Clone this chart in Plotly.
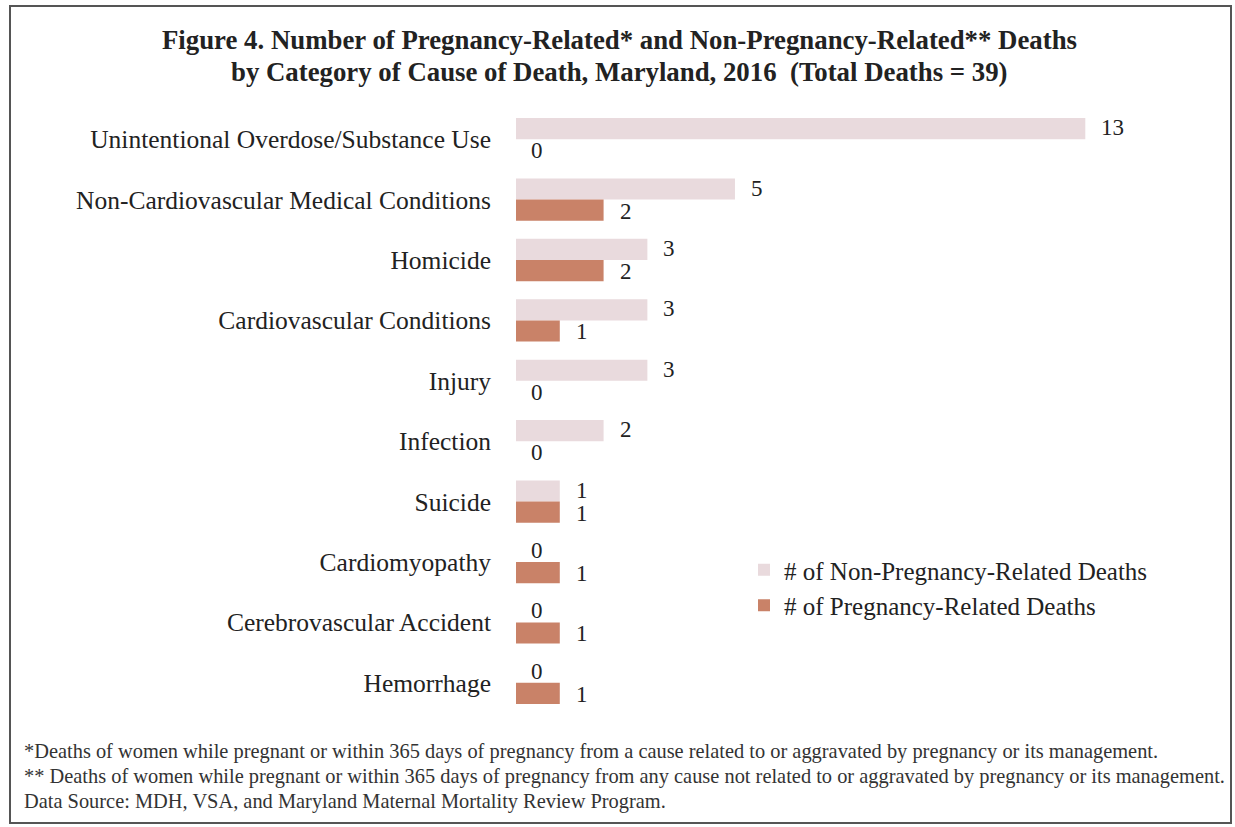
import plotly.graph_objects as go

# Causes of death, listed top to bottom
causes = [
    "Unintentional Overdose/Substance Use",
    "Non-Cardiovascular Medical Conditions",
    "Homicide",
    "Cardiovascular Conditions",
    "Injury",
    "Infection",
    "Suicide",
    "Cardiomyopathy",
    "Cerebrovascular Accident",
    "Hemorrhage",
]
non_pregnancy_related = [13, 5, 3, 3, 3, 2, 1, 0, 0, 0]
pregnancy_related = [0, 2, 2, 1, 0, 0, 1, 1, 1, 1]

NON_COLOR = "#e9dadd"
PREG_COLOR = "#c98268"
FONT = "Liberation Serif"
W, H = 1235, 827
ML, MR, MT, MB = 516, 84, 109, 114
PW, PH = W - ML - MR, H - MT - MB


def px_x(px):
    """page pixel column -> paper x (relative to the plot area)"""
    return (px - ML) / PW


def px_y(py):
    """page pixel row -> paper y (relative to the plot area)"""
    return 1 - (py - MT) / PH


fig = go.Figure()
fig.add_trace(go.Bar(
    y=causes, x=non_pregnancy_related, orientation="h",
    name="# of Non-Pregnancy-Related Deaths",
    marker=dict(color=NON_COLOR, line=dict(width=0)),
    legendgroup="non", hoverinfo="x+y",
))
fig.add_trace(go.Bar(
    y=causes, x=pregnancy_related, orientation="h",
    name="# of Pregnancy-Related Deaths",
    marker=dict(color=PREG_COLOR, line=dict(width=0)),
    legendgroup="preg", hoverinfo="x+y",
))

# value labels next to each bar end
annotations = []
half = 0.35 / 2
for i, (a, b) in enumerate(zip(non_pregnancy_related, pregnancy_related)):
    annotations.append(dict(x=a, y=i - half, xref="x", yref="y", text=str(a),
                            showarrow=False, xanchor="left", yanchor="middle",
                            xshift=14 if a else 13, yshift=1,
                            font=dict(family=FONT, size=23, color="#222")))
    annotations.append(dict(x=b, y=i + half, xref="x", yref="y", text=str(b),
                            showarrow=False, xanchor="left", yanchor="middle",
                            xshift=14 if b else 13, yshift=-1,
                            font=dict(family=FONT, size=23, color="#222")))

# title
annotations.append(dict(
    x=px_x(619), y=px_y(40), xref="paper", yref="paper", showarrow=False,
    text="<b>Figure 4. Number of Pregnancy-Related* and Non-Pregnancy-Related** Deaths</b>",
    xanchor="center", yanchor="middle", font=dict(family=FONT, size=26.8, color="#222")))
annotations.append(dict(
    x=px_x(619), y=px_y(72), xref="paper", yref="paper", showarrow=False,
    text="<b>by Category of Cause of Death, Maryland, 2016  (Total Deaths = 39)</b>",
    xanchor="center", yanchor="middle", font=dict(family=FONT, size=26.8, color="#222")))

# footnotes
notes = [
    "*Deaths of women while pregnant or within 365 days of pregnancy from a cause related to or aggravated by pregnancy or its management.",
    "** Deaths of women while pregnant or within 365 days of pregnancy from any cause not related to or aggravated by pregnancy or its management.",
    "Data Source: MDH, VSA, and Maryland Maternal Mortality Review Program.",
]
for note, yy in zip(notes, [751, 776, 801]):
    annotations.append(dict(
        x=px_x(22), y=px_y(yy), xref="paper", yref="paper", showarrow=False,
        text=note, xanchor="left", yanchor="middle",
        font=dict(family=FONT, size=20.4, color="#333")))

fig.update_layout(
    width=W, height=H,
    margin=dict(l=ML, r=MR, t=MT, b=MB),
    paper_bgcolor="white", plot_bgcolor="white",
    barmode="group", bargap=0.3, bargroupgap=0,
    xaxis=dict(range=[0, 14.5], visible=False, fixedrange=True),
    yaxis=dict(autorange="reversed", showgrid=False, zeroline=False, showline=False,
               ticks="", ticklabelstandoff=24,
               tickfont=dict(family=FONT, size=25.5, color="#222")),
    legend=dict(x=px_x(744), y=px_y(547), xanchor="left", yanchor="top",
                font=dict(family=FONT, size=25, color="#222"),
                bgcolor="rgba(0,0,0,0)", tracegroupgap=6, traceorder="normal"),
    annotations=annotations,
    shapes=[dict(type="rect", xref="paper", yref="paper",
                 x0=px_x(10), x1=px_x(1231), y0=px_y(823), y1=px_y(6),
                 line=dict(color="#555", width=2), layer="below")],
)

fig.write_html("out.html")
